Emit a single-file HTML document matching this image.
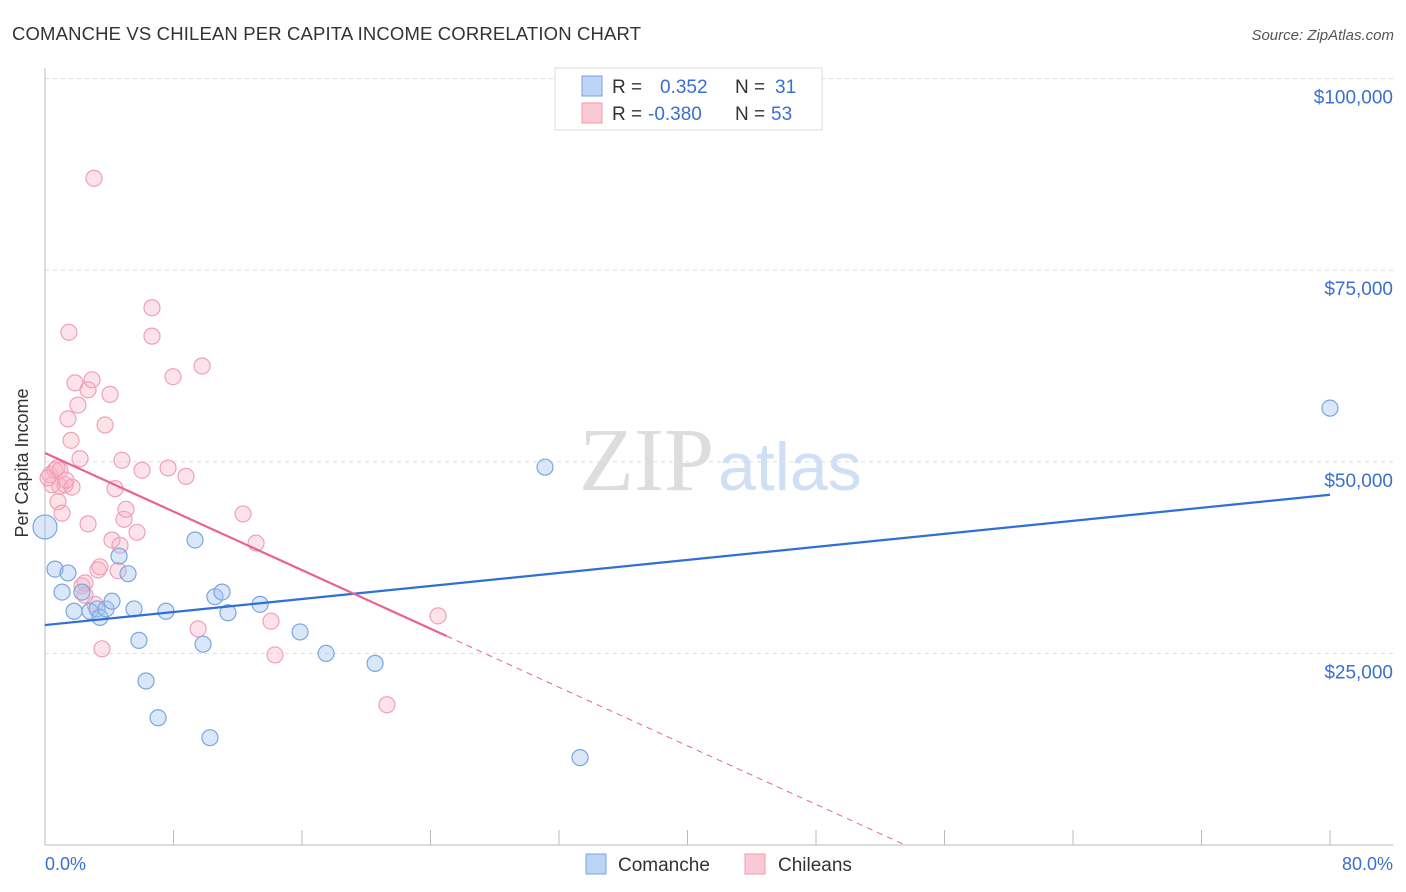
<!DOCTYPE html>
<html><head><meta charset="utf-8"><style>
body{margin:0;background:#fff;font-family:"Liberation Sans",sans-serif;}
svg{display:block}
</style></head><body>
<svg width="1406" height="892" xmlns="http://www.w3.org/2000/svg">
<text x="12" y="40" font-size="18.5" fill="#333" textLength="629">COMANCHE VS CHILEAN PER CAPITA INCOME CORRELATION CHART</text>
<text x="1394" y="40" font-size="15" fill="#555" font-style="italic" text-anchor="end">Source: ZipAtlas.com</text>
<g id="grid"></g>
<text x="714" y="490" font-size="90" fill="#ddd" text-anchor="end" font-family="Liberation Serif">ZIP</text>
<text x="718" y="490" font-size="68" fill="#cfe0f4">atlas</text>
<g id="marks"></g>
<text x="20" y="455" font-size="18" fill="#333" text-anchor="middle" transform="rotate(-90 28 455)">Per Capita Income</text>
<text x="45" y="870" font-size="18" fill="#3a6fd0">0.0%</text>
<text x="1393" y="870" font-size="18" fill="#3a6fd0" text-anchor="end">80.0%</text>
<g>
<rect x="555" y="68" width="267" height="62" fill="#fff" stroke="#ddd"/>
<rect x="582" y="76" width="20" height="20" fill="#bcd4f6" stroke="#7aa3e0"/>
<rect x="582" y="103" width="20" height="20" fill="#f9c9d6" stroke="#ee9ab2"/>
<text x="612" y="93" font-size="19" fill="#333">R = </text><text x="660" y="93" font-size="19" fill="#3a6fd0">0.352</text>
<text x="735" y="93" font-size="19" fill="#333">N = </text><text x="775" y="93" font-size="19" fill="#3a6fd0">31</text>
<text x="612" y="120" font-size="19" fill="#333">R = </text><text x="648" y="120" font-size="19" fill="#3a6fd0">-0.380</text>
<text x="735" y="120" font-size="19" fill="#333">N = </text><text x="771" y="120" font-size="19" fill="#3a6fd0">53</text>
</g>
<g>
<rect x="586" y="854" width="20" height="20" fill="#bcd4f6" stroke="#7aa3e0"/>
<text x="618" y="871" font-size="19" fill="#333">Comanche</text>
<rect x="745" y="854" width="20" height="20" fill="#f9c9d6" stroke="#ee9ab2"/>
<text x="778" y="871" font-size="19" fill="#333">Chileans</text>
</g>
</svg>
<script>
const yTicks=[25000,50000,75000,100000];
const yTickLabels=["$25,000","$50,000","$75,000","$100,000"];
const xTicks=[0,8,16,24,32,40,48,56,64,72,80];
const comancheX=[0,0.62,1.06,1.43,1.81,2.30,2.80,3.24,3.42,3.80,4.17,4.61,5.17,5.54,5.85,6.29,7.04,7.53,9.34,9.84,10.27,10.58,11.02,11.39,13.39,15.88,17.5,20.55,31.13,33.31,80];
const comancheY=[41500,36000,33000,35500,30500,33000,30500,30800,29700,30800,31800,37700,35400,30800,26700,21400,16600,30500,39800,26200,14000,32400,33000,30300,31400,27800,25000,23700,49300,11400,57000];
const chileX=[0.31,0.44,0.62,0.75,0.93,0.81,1.06,1.25,1.43,1.49,1.62,1.68,1.87,2.05,2.18,2.30,2.49,2.68,2.68,2.93,3.05,3.11,3.30,3.42,3.55,3.74,4.05,4.17,4.36,4.55,4.67,4.79,4.92,5.04,5.73,6.04,6.66,6.66,7.66,7.97,8.78,9.53,9.78,12.33,13.14,14.07,14.32,21.29,24.47,0.19,0.93,2.49,1.31];
const chileY=[48300,47000,48900,49200,46800,44800,43300,47000,55600,66900,52800,46700,60300,57400,50400,33800,34200,41900,59400,60700,87000,31400,35900,36300,25600,54800,58800,39800,46500,35800,39100,50200,42500,43800,40800,48900,70100,66400,49200,61100,48100,28200,62500,43200,39400,29200,24800,18300,29900,47900,48900,32600,47600];
const blueTrend=[28700,45700];
const pinkTrend=[51150,27270];
const pinkSolidEnd=25;
const NS="http://www.w3.org/2000/svg";
const X=v=>45+v/80*1285, Y=v=>845-v/25000*191.6;
function mk(t,a,p){const e=document.createElementNS(NS,t);for(const k in a)e.setAttribute(k,a[k]);p.appendChild(e);return e;}
const g=document.getElementById('grid'), m=document.getElementById('marks');
yTicks.forEach((v,i)=>{
 const l=mk('line',{x1:45,x2:1393,y1:Y(v),y2:Y(v),stroke:'#ddd','stroke-dasharray':'4,4'},g);
 
 
 const t=mk('text',{x:1393,y:Y(v)+25,'font-size':19,fill:'#3a6fd0','text-anchor':'end'},g);t.textContent=yTickLabels[i];
 
 
});
const ax=mk('line',{x1:45,x2:45,y1:68,y2:845,stroke:'#bbb'},g);


const bx=mk('line',{x1:45,x2:1393,y1:845,y2:845,stroke:'#bbb'},g);


xTicks.forEach(v=>{const l=mk('line',{x1:X(v),x2:X(v),y1:830,y2:845,stroke:'#bbb'},g);
 
 });
chileX.forEach((x,i)=>{const c=mk('circle',{cx:X(x),cy:Y(chileY[i]),r:8,fill:'rgba(246,176,196,0.35)',stroke:'#f0a0b8','stroke-width':1.2},m);
 
 });
comancheX.forEach((x,i)=>{const c=mk('circle',{cx:X(x),cy:Y(comancheY[i]),r:i==0?12:8,fill:'rgba(160,196,240,0.4)',stroke:'#7aa6e2','stroke-width':1.2},m);
 
 });
const bl=mk('line',{x1:X(0),y1:Y(blueTrend[0]),x2:X(80),y2:Y(blueTrend[1]),stroke:'#2f6fd6','stroke-width':2.2},m);


const slope=(pinkTrend[1]-pinkTrend[0])/pinkSolidEnd, xz=-pinkTrend[0]/slope;
const pl=mk('line',{x1:X(0),y1:Y(pinkTrend[0]),x2:X(pinkSolidEnd),y2:Y(pinkTrend[1]),stroke:'#e8648e','stroke-width':2.2},m);


const pd=mk('line',{x1:X(pinkSolidEnd),y1:Y(pinkTrend[1]),x2:X(xz),y2:Y(0),stroke:'#e8648e','stroke-width':1,'stroke-dasharray':'6,5'},m);


</script>
</body></html>
